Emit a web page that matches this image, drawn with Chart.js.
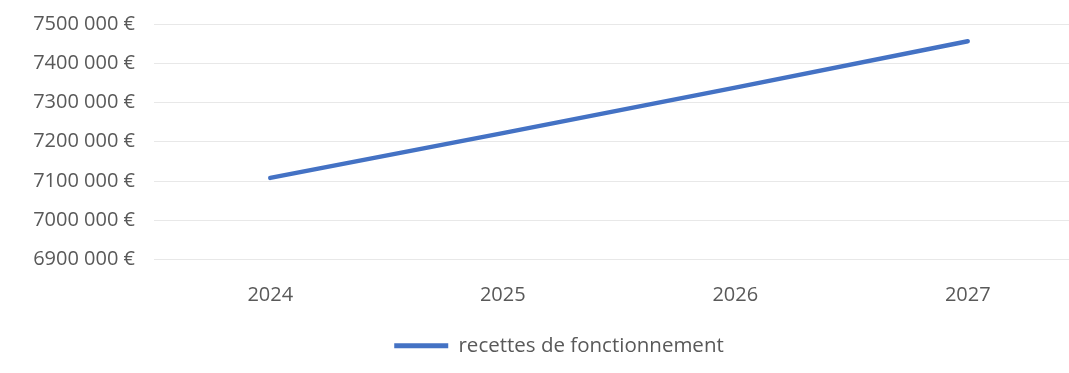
<!DOCTYPE html>
<html>
<head>
<meta charset="utf-8">
<script src="https://cdn.jsdelivr.net/npm/chart.js@4.4.1/dist/chart.umd.min.js"></script>
<style>
  html, body { margin: 0; padding: 0; background: #ffffff; overflow: hidden; }
  #wrap { width: 1069px; height: 373px; overflow: hidden; position: relative; }
  #box { width: 1120px; height: 373px; position: absolute; left: 0; top: 0; }
</style>
</head>
<body>
<div id="wrap"><div id="box"><canvas id="c"></canvas></div></div>
<script>
const categories = ['2024', '2025', '2026', '2027'];
const seriesName = 'recettes de fonctionnement';
const recettes = [7108000, 7222000, 7338000, 7456000];
const yMin = 6900000;
const yMax = 7500000;
const yStep = 100000;

const BLUE = '#4472C4';
const TEXT = '#595959';
const FONT = "'Open Sans', sans-serif";

function euro(v) {
  const s = String(Math.round(v));
  return s.slice(0, -3) + ' ' + s.slice(-3) + ' €';
}

new Chart(document.getElementById('c'), {
  type: 'line',
  data: {
    labels: categories,
    datasets: [{
      label: seriesName,
      data: recettes,
      borderColor: BLUE,
      backgroundColor: BLUE,
      borderWidth: 4.5,
      borderCapStyle: 'round',
      borderJoinStyle: 'round',
      pointRadius: 0,
      tension: 0,
      fill: false
    }]
  },
  options: {
    responsive: true,
    maintainAspectRatio: false,
    animation: false,
    layout: { padding: { left: 34, right: 36, top: 24, bottom: 7 } },
    plugins: {
      tooltip: { enabled: false },
      legend: {
        position: 'bottom',
        labels: {
          color: TEXT,
          font: { family: FONT, size: 20.5 },
          boxWidth: 54,
          boxHeight: 5,
          padding: 4,
          generateLabels: (chart) => chart.data.datasets.map((ds, i) => ({
            text: ds.label,
            fillStyle: BLUE,
            strokeStyle: BLUE,
            lineWidth: 0,
            fontColor: TEXT,
            datasetIndex: i
          }))
        }
      }
    },
    scales: {
      x: {
        offset: true,
        grid: { display: false, drawTicks: false },
        border: { display: false },
        ticks: { color: TEXT, font: { family: FONT, size: 20 }, padding: 24 }
      },
      y: {
        min: yMin,
        max: yMax,
        afterFit: (s) => { s.width = 120; s.paddingTop = 0; s.paddingBottom = 0; },
        grid: { color: '#e8e8e8', lineWidth: 1, drawTicks: false },
        border: { display: false },
        ticks: {
          stepSize: yStep,
          color: TEXT,
          font: { family: FONT, size: 20 },
          padding: 19,
          callback: (v) => euro(v)
        }
      }
    }
  }
});
</script>
</body>
</html>
